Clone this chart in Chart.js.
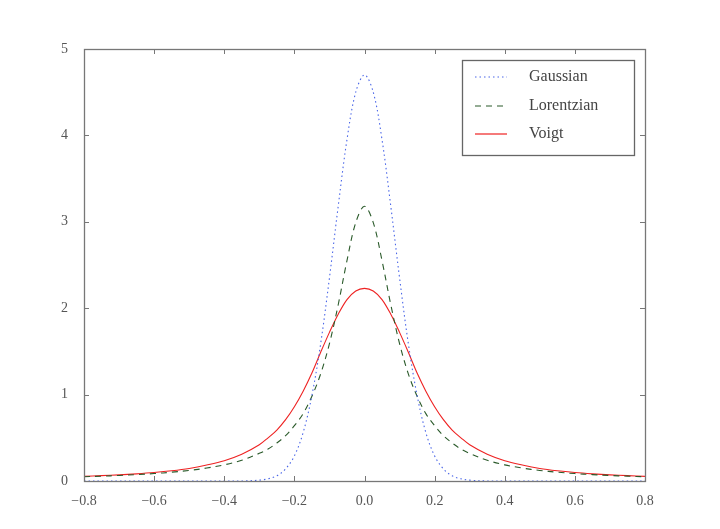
<!DOCTYPE html>
<html><head><meta charset="utf-8">
<script src="https://cdn.jsdelivr.net/npm/chart.js@4"></script>
<style>html,body{margin:0;padding:0;background:#fff}#w{width:720px;height:529px}</style>
</head><body><div id="w"><canvas id="c"></canvas></div>
<script>
const xs=[-0.8,-0.75,-0.7,-0.65,-0.6,-0.55,-0.5,-0.45,-0.4,-0.35,-0.3,-0.275,-0.25,-0.225,-0.2,-0.175,-0.15,-0.125,-0.1,-0.075,-0.05,-0.025,0,0.025,0.05,0.075,0.1,0.125,0.15,0.175,0.2,0.225,0.25,0.275,0.3,0.35,0.4,0.45,0.5,0.55,0.6,0.65,0.7,0.75,0.8];
const gaussian=[0,0,0,0,0,0,0,0,0,0,0.01,0.025,0.06,0.14,0.29,0.56,0.99,1.59,2.35,3.18,3.95,4.50,4.70,4.50,3.95,3.18,2.35,1.59,0.99,0.56,0.29,0.14,0.06,0.025,0.01,0,0,0,0,0,0,0,0,0,0];
const lorentzian=[0.049,0.056,0.064,0.074,0.086,0.102,0.122,0.15,0.187,0.24,0.32,0.37,0.44,0.525,0.64,0.78,0.98,1.24,1.59,2.04,2.55,2.99,3.18,2.99,2.55,2.04,1.59,1.24,0.98,0.78,0.64,0.525,0.44,0.37,0.32,0.24,0.187,0.15,0.122,0.102,0.086,0.074,0.064,0.056,0.049];
const voigt=[0.054,0.062,0.071,0.083,0.098,0.118,0.145,0.185,0.235,0.31,0.42,0.50,0.59,0.71,0.86,1.04,1.25,1.49,1.72,1.93,2.10,2.20,2.23,2.20,2.10,1.93,1.72,1.49,1.25,1.04,0.86,0.71,0.59,0.50,0.42,0.31,0.235,0.185,0.145,0.118,0.098,0.083,0.071,0.062,0.054];
const names=["Gaussian","Lorentzian","Voigt"];
const xTicks=[-0.8,-0.6,-0.4,-0.2,0,0.2,0.4,0.6,0.8];
const yTicks=[0,1,2,3,4,5];
const FONT='"Liberation Serif","DejaVu Serif",serif';
const styles=[{c:'#4a66e8',d:[1.5,3]},{c:'#2a5a2a',d:[6,5]},{c:'#ee2222',d:[]}];
const series=[gaussian,lorentzian,voigt];
const datasets=series.map((s,i)=>({label:names[i],data:xs.map((x,j)=>({x:x,y:s[j]})),borderColor:styles[i].c,borderDash:styles[i].d,borderWidth:1.1,pointRadius:0,tension:0.35,fill:false}));
const fmt=v=>{if(Math.abs(v)<1e-9)return '0.0';return (v<0?'\u2212':'')+Math.abs(v).toFixed(1);};
const deco={id:'deco',afterDraw(ch){const g=ch.ctx,a=ch.chartArea,sx=ch.scales.x,sy=ch.scales.y;g.save();g.strokeStyle='#777';g.lineWidth=1.3;
g.strokeRect(a.left+0.5,a.top+0.5,a.right-a.left,a.bottom-a.top);
g.lineWidth=1;g.beginPath();xTicks.forEach(v=>{const p=Math.round(sx.getPixelForValue(v))+0.5;g.moveTo(p,a.bottom);g.lineTo(p,a.bottom-5);g.moveTo(p,a.top);g.lineTo(p,a.top+5);});
yTicks.forEach(v=>{const p=Math.round(sy.getPixelForValue(v))+0.5;g.moveTo(a.left,p);g.lineTo(a.left+5,p);g.moveTo(a.right,p);g.lineTo(a.right-5,p);});g.stroke();
const L=462,T=60,W=172,H=95;g.fillStyle='#fff';g.fillRect(L,T,W,H);g.strokeStyle='#666';g.lineWidth=1.3;g.strokeRect(L+0.5,T+0.5,W,H);
g.font='16px '+FONT;g.textBaseline='middle';
const rows=[77,106,134];
names.forEach((n,i)=>{const y=rows[i];g.setLineDash(styles[i].d);g.strokeStyle=styles[i].c;g.lineWidth=1.2;g.beginPath();g.moveTo(L+13,y);g.lineTo(L+45,y);g.stroke();g.setLineDash([]);g.fillStyle='#444';g.fillText(n,L+67,y);});
g.restore();}};
new Chart(document.getElementById('c'),{type:'line',data:{datasets},plugins:[deco],
options:{responsive:true,maintainAspectRatio:false,animation:false,
layout:{padding:{left:0,top:49,right:75,bottom:0}},
plugins:{legend:{display:false},tooltip:{enabled:false}},
scales:{x:{type:'linear',min:-0.8,max:0.8,afterFit(s){s.height=48;},afterBuildTicks(s){s.ticks=xTicks.map(v=>({value:v}));},
grid:{display:false},border:{display:false},ticks:{color:'#555',font:{family:FONT,size:14},padding:4,callback:v=>fmt(v),maxRotation:0}},
y:{min:0,max:5,afterFit(s){s.width=84;},afterBuildTicks(s){s.ticks=yTicks.map(v=>({value:v}));},
grid:{display:false},border:{display:false},ticks:{color:'#555',font:{family:FONT,size:14},padding:8,callback:v=>String(v)}}}}});
</script></body></html>
